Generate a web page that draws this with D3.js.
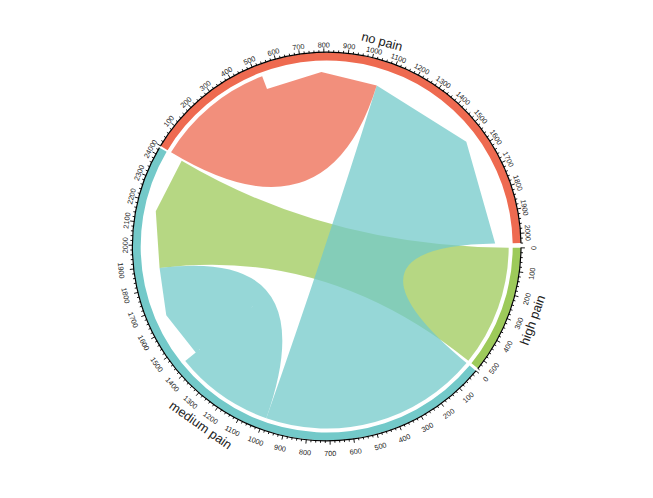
<!DOCTYPE html>
<html>
<head>
<meta charset="utf-8">
<script src="https://cdn.jsdelivr.net/npm/d3@7"></script>
<style>
  body { margin: 0; background: #fff; }
  svg { display: block; }
</style>
</head>
<body>
<script>
const width = 653;
const height = 498;
const cx = 326.7, cy = 246.5;

// sectors, clockwise from 3 o'clock
const sectors = ["high pain", "medium pain", "no pain"];
const sectorTotals = [540, 2430, 2040];
const sectorColors = ["#9DCA5A", "#73C9C9", "#EE6A50"];

// directed links (from -> to)
const linkFrom = ["no pain", "medium pain", "medium pain", "high pain"];
const linkTo = ["no pain", "no pain", "medium pain", "medium pain"];
const linkValues = [525, 990, 450, 540];

// layout: angular span of each sector in degrees (clockwise from 3 o'clock)
const sectorSpanDeg = [[0.4, 38.9], [39.8, 210.6], [211.2, 359.0]];
const rTrackIn = 186, rTrackOut = 194;
const rSrc = 182, rTgt = 168.5, rTip = 174.5;

const rad = d => d * Math.PI / 180;
const pt = (deg, r) => [cx + r * Math.cos(rad(deg)), cy + r * Math.sin(rad(deg))];

const angle = sectors.map((s, i) => d3.scaleLinear()
    .domain([0, sectorTotals[i]])
    .range(sectorSpanDeg[i]));

const svg = d3.select("body")
    .append("svg")
    .attr("width", width)
    .attr("height", height);

// where each link end sits inside its sector: outgoing ends first, then incoming
const cursor = sectors.map(() => 0);
const links = linkValues.map((v, k) => ({ from: linkFrom[k], to: linkTo[k], value: v }));
links.forEach(l => {
    const i = sectors.indexOf(l.from);
    l.s = [cursor[i], cursor[i] + l.value];
    cursor[i] += l.value;
});
links.forEach(l => {
    const i = sectors.indexOf(l.to);
    l.t = [cursor[i], cursor[i] + l.value];
    cursor[i] += l.value;
});

function linkPath(l) {
    const si = sectors.indexOf(l.from), ti = sectors.indexOf(l.to);
    const s0 = angle[si](l.s[0]), s1 = angle[si](l.s[1]);
    const t0 = angle[ti](l.t[0]), t1 = angle[ti](l.t[1]);
    const p = d3.path();
    p.moveTo(...pt(s0, rSrc));
    p.arc(cx, cy, rSrc, rad(s0), rad(s1));
    p.quadraticCurveTo(cx, cy, ...pt(t0, rTgt));
    // big arrow at the target end
    p.lineTo(...pt((t0 + t1) / 2, rTip));
    p.lineTo(...pt(t1, rTgt));
    p.quadraticCurveTo(cx, cy, ...pt(s0, rSrc));
    p.closePath();
    return p.toString();
}

svg.append("g")
    .selectAll("path")
    .data(links.slice().reverse())
    .enter()
    .append("path")
    .attr("d", linkPath)
    .attr("fill", d => sectorColors[sectors.indexOf(d.from)])
    .attr("fill-opacity", 0.75);

// outer track
const trackArc = d3.arc()
    .innerRadius(rTrackIn)
    .outerRadius(rTrackOut)
    .startAngle((d, i) => rad(sectorSpanDeg[i][0] + 90))
    .endAngle((d, i) => rad(sectorSpanDeg[i][1] + 90));

svg.append("g")
    .attr("transform", `translate(${cx},${cy})`)
    .selectAll("path")
    .data(sectors)
    .enter()
    .append("path")
    .attr("d", trackArc)
    .attr("fill", (d, i) => sectorColors[i]);

// text placed tangent to the circle, flipped when it would be upside down
function tangentText(g, deg, rUp, rFlip, label, size) {
    let rot = ((deg + 90) % 360 + 360) % 360;
    let flip = rot > 90 && rot < 270;
    if (flip) rot -= 180;
    const [x, y] = pt(deg, flip ? rFlip : rUp);
    g.append("text")
        .attr("transform", `translate(${x},${y}) rotate(${rot})`)
        .attr("text-anchor", "middle")
        .attr("dominant-baseline", "central")
        .attr("font-size", size)
        .text(label);
}

// axes
const axes = svg.append("g")
    .attr("font-family", "Liberation Sans, Arial, sans-serif")
    .attr("fill", "#222");

sectors.forEach((s, i) => {
    const a = angle[i];
    const line = d3.path();
    line.arc(cx, cy, rTrackOut + 0.3, rad(a(0)), rad(a(sectorTotals[i])));
    axes.append("path")
        .attr("d", line.toString())
        .attr("fill", "none")
        .attr("stroke", "#000")
        .attr("stroke-width", 1.2);

    d3.range(0, sectorTotals[i] + 1, 20).forEach(v => {
        const major = v % 100 === 0;
        const [x1, y1] = pt(a(v), rTrackOut);
        const [x2, y2] = pt(a(v), rTrackOut + (major ? 4.2 : 2.4));
        axes.append("line")
            .attr("x1", x1).attr("y1", y1)
            .attr("x2", x2).attr("y2", y2)
            .attr("stroke", "#000")
            .attr("stroke-width", 0.9);
        if (major) tangentText(axes, a(v), 201.5, 207, v, 7.3);
    });

    const mid = (sectorSpanDeg[i][0] + sectorSpanDeg[i][1]) / 2;
    tangentText(axes, mid, 212.5, 218.5, s, 12.8);
});
</script>
</body>
</html>
